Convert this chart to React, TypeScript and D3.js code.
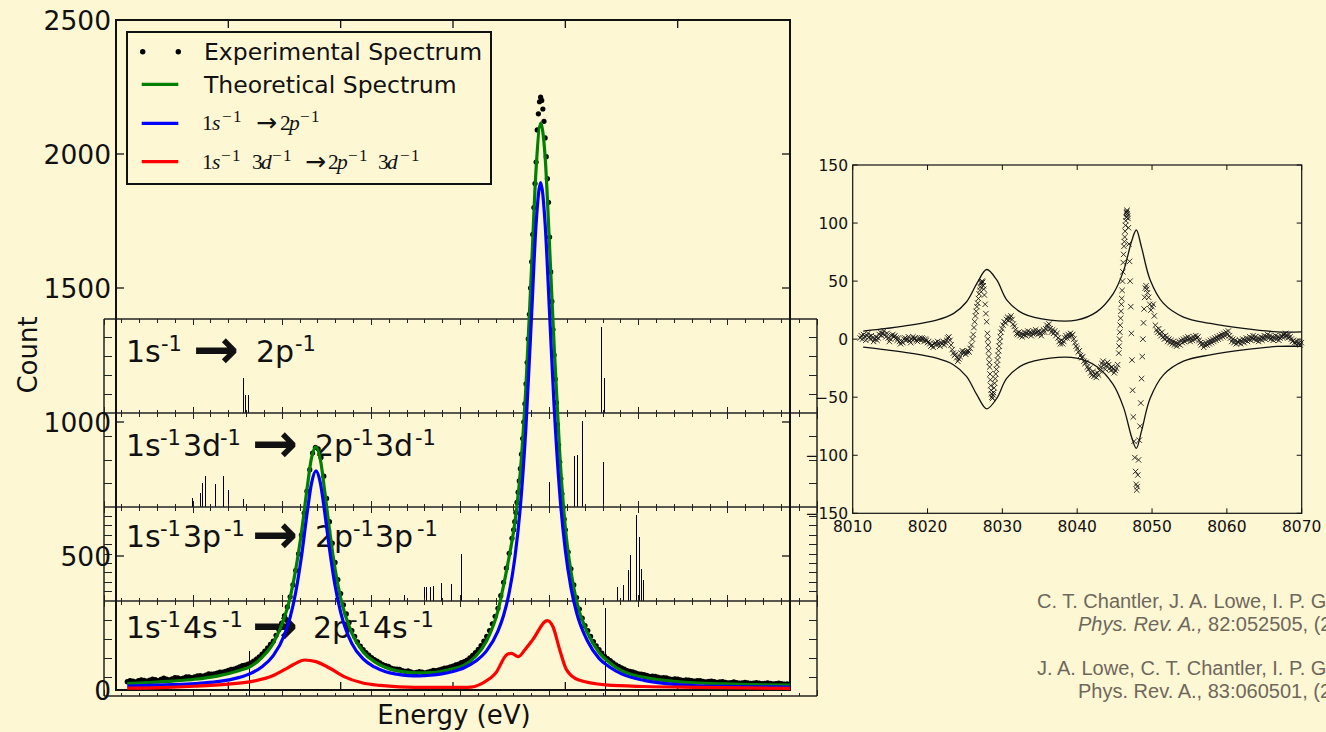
import React from "react";
import * as d3 from "d3";

const BG = "#fef7d4";

// ---------- main spectrum (Energy eV, Count) ----------
const experimental: [number, number][] = [
  [8011, 31], [8011.25, 35], [8011.5, 33], [8011.75, 30], [8012, 35], [8012.25, 38], [8012.5, 36], [8012.75, 33],
  [8013, 37], [8013.25, 41], [8013.5, 39], [8013.75, 35], [8014, 40], [8014.25, 44], [8014.5, 41], [8014.75, 38],
  [8015, 42], [8015.25, 46], [8015.5, 45], [8015.75, 42], [8016, 44], [8016.25, 49], [8016.5, 49], [8016.75, 46],
  [8017, 49], [8017.25, 53], [8017.5, 54], [8017.75, 52], [8018, 56], [8018.25, 60], [8018.5, 59], [8018.75, 60],
  [8019, 63], [8019.25, 67], [8019.5, 67], [8019.75, 70], [8020, 73], [8020.25, 77], [8020.5, 78], [8020.75, 82],
  [8021, 86], [8021.25, 91], [8021.5, 93], [8021.75, 97], [8022, 101], [8022.25, 108], [8022.5, 115], [8022.75, 124],
  [8023, 134], [8023.25, 145], [8023.5, 157], [8023.75, 170],
  [8024, 182], [8024.25, 204], [8024.5, 225], [8024.75, 250], [8025, 278], [8025.25, 310], [8025.5, 348],
  [8025.75, 392], [8026, 446], [8026.25, 508], [8026.5, 578], [8026.75, 660], [8027, 742], [8027.25, 822],
  [8027.5, 884], [8027.75, 905], [8028, 900], [8028.25, 868], [8028.5, 798], [8028.75, 715], [8029, 628],
  [8029.25, 548], [8029.5, 476], [8029.75, 412], [8030, 360], [8030.25, 318], [8030.5, 284], [8030.75, 252],
  [8031, 222], [8031.25, 200], [8031.5, 180], [8031.75, 164],
  [8032, 151], [8032.25, 140], [8032.5, 130], [8032.75, 121], [8033, 113], [8033.25, 108], [8033.5, 101],
  [8033.75, 95], [8034, 91], [8034.25, 88], [8034.5, 82], [8034.75, 79], [8035, 78], [8035.25, 77], [8035.5, 72],
  [8035.75, 70], [8036, 71], [8036.25, 68], [8036.5, 64], [8036.75, 66], [8037, 69], [8037.25, 67], [8037.5, 64],
  [8037.75, 67], [8038, 70], [8038.25, 73], [8038.5, 72], [8038.75, 75], [8039, 78], [8039.25, 82], [8039.5, 83],
  [8039.75, 86], [8040, 89], [8040.25, 94], [8040.5, 97], [8040.75, 102], [8041, 106], [8041.25, 112],
  [8041.5, 120], [8041.75, 129], [8042, 140], [8042.25, 152], [8042.5, 166], [8042.75, 182], [8043, 200],
  [8043.25, 222], [8043.5, 247], [8043.75, 275],
  [8044, 305], [8044.25, 352], [8044.5, 402], [8044.75, 455], [8045, 510], [8045.25, 566],
  [8045.4, 598], [8045.5, 628], [8045.6, 662], [8045.7, 700], [8045.8, 738], [8045.9, 780], [8046, 826],
  [8046.1, 880], [8046.2, 938], [8046.3, 1000], [8046.4, 1068], [8046.5, 1142], [8046.6, 1222], [8046.7, 1310],
  [8046.8, 1402], [8046.9, 1500], [8047, 1598], [8047.1, 1700], [8047.2, 1800], [8047.3, 1890], [8047.4, 1970],
  [8047.5, 2090], [8047.6, 2150], [8047.7, 2195], [8047.8, 2212], [8047.9, 2200], [8048, 2168], [8048.1, 2122],
  [8048.2, 2060], [8048.3, 1990], [8048.4, 1908], [8048.5, 1820], [8048.6, 1690], [8048.7, 1560], [8048.8, 1450],
  [8048.9, 1345], [8049, 1250], [8049.1, 1160], [8049.2, 1072], [8049.3, 990], [8049.4, 915], [8049.5, 850],
  [8049.6, 788], [8049.7, 732], [8049.8, 682], [8049.9, 638], [8050, 598],
  [8050.25, 515], [8050.5, 452], [8050.75, 392], [8051, 345], [8051.25, 302], [8051.5, 268], [8051.75, 240],
  [8052, 222], [8052.25, 200], [8052.5, 181], [8052.75, 165], [8053, 151], [8053.25, 138], [8053.5, 126],
  [8053.75, 117], [8054, 110], [8054.25, 101], [8054.5, 94], [8054.75, 88], [8055, 83], [8055.25, 78],
  [8055.5, 72], [8055.75, 70], [8056, 68], [8056.25, 64], [8056.5, 60], [8056.75, 59], [8057, 57], [8057.25, 55],
  [8057.5, 51], [8057.75, 52], [8058, 51], [8058.25, 48], [8058.5, 45], [8058.75, 46], [8059, 45], [8059.25, 42],
  [8059.5, 40], [8059.75, 42], [8060, 41], [8060.25, 38], [8060.5, 36], [8060.75, 38], [8061, 37], [8061.25, 35],
  [8061.5, 33], [8061.75, 35], [8062, 35], [8062.25, 32], [8062.5, 30], [8062.75, 32], [8063, 33], [8063.25, 31],
  [8063.5, 29], [8063.75, 30], [8064, 31], [8064.25, 29], [8064.5, 27], [8064.75, 28], [8065, 30], [8065.25, 28],
  [8065.5, 26], [8065.75, 27], [8066, 29], [8066.25, 27], [8066.5, 25], [8066.75, 26], [8067, 28], [8067.25, 26],
  [8067.5, 24], [8067.75, 25], [8068, 27], [8068.25, 25], [8068.5, 23], [8068.75, 24], [8069, 26], [8069.25, 24],
  [8069.5, 22], [8069.75, 23],
];

const theoretical: [number, number][] = [
  [8011, 24], [8013, 28], [8015, 33], [8017, 40], [8019, 52], [8021, 73], [8022, 88], [8023, 122], [8024, 175],
  [8025, 272], [8025.5, 345], [8026, 450], [8026.5, 585], [8027, 748], [8027.4, 865], [8027.8, 907],
  [8028.2, 858], [8028.6, 735], [8029, 600], [8029.5, 452], [8030, 342], [8031, 211], [8032, 142], [8033, 106],
  [8034, 84], [8035, 72], [8036, 66], [8037, 64], [8038, 65], [8039, 70], [8040, 79], [8041, 93], [8042, 125],
  [8043, 184], [8044, 295], [8044.5, 390], [8045, 498], [8045.5, 622], [8046, 818], [8046.5, 1140], [8047, 1585],
  [8047.4, 1946], [8047.8, 2115], [8048.2, 1990], [8048.6, 1652], [8049, 1288], [8049.5, 885], [8050, 606],
  [8050.5, 442], [8051, 331], [8052, 211], [8053, 140], [8054, 100], [8055, 72], [8057, 47], [8059, 35],
  [8061, 28], [8063, 24], [8065, 22], [8067, 20], [8070, 18],
];

const diagram: [number, number][] = [
  [8011, 15], [8013, 17], [8015, 20], [8017, 24], [8019, 31], [8021, 47], [8022, 62], [8023, 87], [8024, 128],
  [8025, 206], [8025.5, 271], [8026, 365], [8026.5, 495], [8027, 656], [8027.4, 770], [8027.8, 818],
  [8028.2, 771], [8028.6, 657], [8029, 528], [8029.5, 390], [8030, 290], [8031, 173], [8032, 116], [8033, 86],
  [8034, 68], [8035, 59], [8036, 54], [8037, 53], [8038, 55], [8039, 60], [8040, 69], [8041, 83], [8042, 107],
  [8043, 147], [8044, 220], [8044.5, 278], [8045, 363], [8045.5, 491], [8046, 686], [8046.5, 986], [8047, 1403],
  [8047.4, 1741], [8047.8, 1893], [8048.2, 1740], [8048.6, 1402], [8049, 1060], [8049.5, 735], [8050, 521],
  [8050.5, 382], [8051, 289], [8052, 181], [8053, 118], [8054, 84], [8055, 60], [8057, 36], [8059, 24],
  [8061, 17], [8063, 14], [8065, 13], [8067, 12], [8070, 11],
];

const satellite3d: [number, number][] = [
  [8011, 7], [8014, 9], [8017, 14], [8020, 22], [8022, 31], [8024, 54], [8025, 76], [8025.8, 95], [8026.8, 112],
  [8027.8, 106], [8029, 82], [8030.3, 50], [8031.9, 27], [8033.5, 17], [8035.2, 12], [8038, 10], [8041.3, 10],
  [8042.6, 25], [8043.8, 63], [8044.8, 132], [8045.2, 137], [8045.8, 124], [8046.4, 150], [8047.1, 188],
  [8048.4, 259], [8048.9, 236], [8049.5, 150], [8050.1, 76], [8051.2, 37], [8053.6, 19], [8057, 13],
  [8061.8, 10], [8066, 8], [8070, 6],
];

const mainYTicks = [0, 500, 1000, 1500, 2000, 2500];
const mainXTicks = [8020, 8030, 8040, 8050, 8060];

// ---------- transition sticks (Energy eV, relative intensity) ----------
const sticks2p: [number, number][] = [
  [8027.85, 0.375], [8027.93, 0.19], [8028.13, 0.19], [8047.9, 0.92], [8048.1, 0.375],
];
const sticks3d: [number, number][] = [
  [8024.94, 0.096], [8025.4, 0.152], [8025.55, 0.255], [8025.67, 0.333], [8026.23, 0.245], [8026.73, 0.333],
  [8026.96, 0.18], [8027.83, 0.082], [8044.97, 0.263], [8045.73, 0.096], [8046.37, 0.543], [8046.59, 0.553],
  [8046.82, 0.11], [8046.87, 0.918], [8048.05, 0.482],
];
const sticks3p: [number, number][] = [
  [8036.86, 0.064], [8038.0, 0.146], [8038.1, 0.146], [8038.3, 0.146], [8038.49, 0.163], [8038.95, 0.188],
  [8039.47, 0.178], [8040.03, 0.5], [8048.8, 0.152], [8048.95, 0.03], [8049.17, 0.167], [8049.45, 0.33],
  [8049.53, 0.49], [8049.85, 0.915], [8050.03, 0.678], [8050.14, 0.34], [8050.24, 0.223],
];
const sticks4s: [number, number][] = [
  [8028.16, 0.47], [8048.16, 0.93],
];

// ---------- residual inset (Energy eV, residual counts) ----------
const residualsLow: [number, number][] = [
  [8011.0, 1], [8011.15, 3], [8011.3, 0], [8011.45, 4], [8011.6, 2], [8011.75, -1], [8011.9, 3], [8012.05, 5],
  [8012.2, 2], [8012.35, 0], [8012.5, 3], [8012.65, 1], [8012.8, -2], [8012.95, 0], [8013.1, 2], [8013.25, -1],
  [8013.4, 1], [8013.55, 4], [8013.7, 6], [8013.85, 3], [8014.0, 5], [8014.15, 7], [8014.3, 4], [8014.45, 2],
  [8014.6, 5], [8014.75, 1], [8014.9, -2], [8015.05, 0], [8015.2, 3], [8015.35, 4], [8015.5, 2], [8015.65, 3],
  [8015.8, 1], [8015.95, -1], [8016.1, 1], [8016.25, -2], [8016.4, -4], [8016.55, -2], [8016.7, -3], [8016.85, 0],
  [8017.0, 1], [8017.15, -1], [8017.3, 0], [8017.45, 2], [8017.6, -1], [8017.75, -3], [8017.9, 0], [8018.05, 2],
  [8018.2, 0], [8018.35, 1], [8018.5, -1], [8018.65, -2], [8018.8, 0], [8018.95, 1], [8019.1, -1], [8019.25, 1],
  [8019.4, 0], [8019.55, -2], [8019.7, 0], [8019.85, -1], [8020.0, -3], [8020.15, -2], [8020.3, -4], [8020.45, -6],
  [8020.6, -5], [8020.75, -7], [8020.9, -4], [8021.05, -3], [8021.2, -5], [8021.35, -2], [8021.5, -4], [8021.65, -6],
  [8021.8, -3], [8021.95, -4], [8022.1, -2], [8022.25, -5], [8022.4, -3], [8022.55, -1], [8022.7, 1], [8022.85, 2],
  [8023.0, -1], [8023.15, -5], [8023.3, -9], [8023.45, -12], [8023.6, -14], [8023.75, -13], [8023.9, -16],
  [8024.05, -19], [8024.2, -17], [8024.35, -15], [8024.5, -12], [8024.65, -10], [8024.8, -12], [8024.95, -11],
  [8025.1, -13], [8025.25, -11], [8025.4, -10], [8025.55, -11], [8025.7, -8], [8025.85, -5],
];
const residualsKa2: [number, number][] = [
  [8026, 0], [8026.1, 4], [8026.2, 10], [8026.3, 15], [8026.4, 20], [8026.5, 24], [8026.6, 28], [8026.7, 31],
  [8026.8, 35], [8026.9, 39], [8027, 42], [8027.05, 45], [8027.15, 48], [8027.2, 49], [8027.3, 50], [8027.38, 49],
  [8027.45, 46], [8027.52, 43], [8027.6, 38], [8027.7, 30], [8027.8, 22], [8027.9, 15], [8028, 5], [8028.05, 0],
  [8028.1, -5], [8028.15, -10], [8028.2, -15], [8028.25, -20], [8028.3, -24], [8028.35, -30], [8028.4, -35],
  [8028.45, -40], [8028.5, -44], [8028.55, -47], [8028.6, -50], [8028.68, -51], [8028.75, -48], [8028.82, -46],
  [8028.9, -42], [8028.97, -38], [8029.05, -34], [8029.12, -30], [8029.2, -26], [8029.28, -22], [8029.35, -18],
  [8029.42, -14], [8029.5, -10], [8029.58, -6], [8029.65, -2], [8029.72, 2], [8029.8, 6],
];
const residualsMid: [number, number][] = [
  [8029.95, 9], [8030.1, 12], [8030.25, 15], [8030.4, 14], [8030.55, 17], [8030.7, 19], [8030.85, 16], [8031.0, 18],
  [8031.15, 20], [8031.3, 17], [8031.45, 13], [8031.6, 11], [8031.75, 8], [8031.9, 5], [8032.05, 4], [8032.2, 6],
  [8032.35, 3], [8032.5, 5], [8032.65, 2], [8032.8, 4], [8032.95, 6], [8033.1, 3], [8033.25, 5], [8033.4, 7],
  [8033.55, 4], [8033.7, 6], [8033.85, 3], [8034.0, 5], [8034.15, 7], [8034.3, 5], [8034.45, 8], [8034.6, 6],
  [8034.75, 4], [8034.9, 7], [8035.05, 5], [8035.2, 3], [8035.35, 6], [8035.5, 8], [8035.65, 6], [8035.8, 9],
  [8035.95, 12], [8036.1, 10], [8036.25, 13], [8036.4, 9], [8036.55, 6], [8036.7, 8], [8036.85, 5], [8037.0, 7],
  [8037.15, 3], [8037.3, 5], [8037.45, 1], [8037.6, -2], [8037.75, -4], [8037.9, -1], [8038.05, -4], [8038.2, -2],
  [8038.35, 1], [8038.5, 3], [8038.65, 1], [8038.8, 4], [8038.95, 2], [8039.1, 5], [8039.25, 3], [8039.4, 4],
  [8039.55, 0], [8039.7, -3], [8039.85, -6], [8040.0, -8], [8040.15, -11], [8040.3, -10], [8040.45, -14],
  [8040.6, -16], [8040.75, -15], [8040.9, -19], [8041.05, -21], [8041.2, -20], [8041.35, -24], [8041.5, -26],
  [8041.65, -25], [8041.8, -29], [8041.95, -31], [8042.1, -28], [8042.25, -32], [8042.4, -30], [8042.55, -33],
  [8042.7, -29], [8042.85, -31], [8043.0, -27], [8043.15, -24], [8043.3, -21], [8043.45, -19], [8043.6, -22],
  [8043.75, -26], [8043.9, -23], [8044.05, -20], [8044.2, -22], [8044.35, -25], [8044.5, -27], [8044.65, -24],
  [8044.8, -26], [8044.95, -29], [8045.1, -27], [8045.25, -25], [8045.4, -22],
];
const residualsKa1: [number, number][] = [
  [8045.55, -12], [8045.6, -6], [8045.65, 0], [8045.7, 6], [8045.75, 12], [8045.8, 18], [8045.85, 24], [8045.9, 30],
  [8045.95, 35], [8046, 42], [8046.05, 50], [8046.1, 58], [8046.15, 66], [8046.2, 73], [8046.25, 80], [8046.3, 84],
  [8046.35, 88], [8046.4, 93], [8046.45, 98], [8046.5, 102], [8046.55, 105], [8046.58, 109], [8046.62, 110],
  [8046.66, 111], [8046.7, 108], [8046.74, 106], [8046.78, 104], [8046.85, 96], [8046.92, 82], [8047, 67],
  [8047.08, 50], [8047.16, 28], [8047.24, 5], [8047.32, -18], [8047.4, -44], [8047.5, -67], [8047.6, -88],
  [8047.7, -102], [8047.8, -114], [8047.88, -125], [8047.95, -130], [8048.02, -127], [8048.1, -117],
  [8048.2, -104], [8048.3, -87], [8048.4, -75], [8048.5, -55], [8048.6, -34], [8048.7, -15], [8048.78, 0],
  [8048.86, 14], [8048.94, 26], [8049.02, 36], [8049.1, 44], [8049.2, 46], [8049.3, 43], [8049.4, 40],
  [8049.55, 36], [8049.7, 30], [8049.85, 25], [8050, 28], [8050.15, 30], [8050.3, 20], [8050.45, 12], [8050.6, 8],
];
const residualsHigh: [number, number][] = [
  [8050.75, 6], [8050.9, 9], [8051.05, 5], [8051.2, 3], [8051.35, 6], [8051.5, 2], [8051.65, 0], [8051.8, 3],
  [8051.95, 1], [8052.1, -2], [8052.25, 0], [8052.4, -3], [8052.55, -1], [8052.7, -4], [8052.85, -2], [8053.0, -5],
  [8053.15, -3], [8053.3, -6], [8053.45, -4], [8053.6, -2], [8053.75, -5], [8053.9, -1], [8054.05, -3], [8054.2, 0],
  [8054.35, -2], [8054.5, 1], [8054.65, -1], [8054.8, 2], [8054.95, 0], [8055.1, -2], [8055.25, 1], [8055.4, -1],
  [8055.55, 2], [8055.7, 0], [8055.85, 3], [8056.0, 1], [8056.15, 2], [8056.3, -1], [8056.45, -3], [8056.6, -5],
  [8056.75, -4], [8056.9, -7], [8057.05, -5], [8057.2, -3], [8057.35, -5], [8057.5, -2], [8057.65, -4], [8057.8, -1],
  [8057.95, -3], [8058.1, 0], [8058.25, -2], [8058.4, 1], [8058.55, -1], [8058.7, 2], [8058.85, 0], [8059.0, 3],
  [8059.15, 1], [8059.3, 4], [8059.45, 2], [8059.6, 5], [8059.75, 3], [8059.9, 6], [8060.05, 4], [8060.2, 7],
  [8060.35, 3], [8060.5, 1], [8060.65, -2], [8060.8, 0], [8060.95, -3], [8061.1, -1], [8061.25, -4], [8061.4, -2],
  [8061.55, -3], [8061.7, -1], [8061.85, -4], [8062.0, -2], [8062.15, 0], [8062.3, -3], [8062.45, -1], [8062.6, 1],
  [8062.75, -2], [8062.9, 0], [8063.05, 2], [8063.2, -1], [8063.35, 1], [8063.5, 3], [8063.65, 0], [8063.8, 2],
  [8063.95, -1], [8064.1, 1], [8064.25, -2], [8064.4, 0], [8064.55, 2], [8064.7, -1], [8064.85, 1], [8065.0, 3],
  [8065.15, 0], [8065.3, 2], [8065.45, 4], [8065.6, 1], [8065.75, 3], [8065.9, 0], [8066.05, 2], [8066.2, -1],
  [8066.35, 1], [8066.5, 3], [8066.65, 0], [8066.8, 2], [8066.95, -1], [8067.1, 1], [8067.25, 3], [8067.4, 2],
  [8067.55, 4], [8067.7, 2], [8067.85, 5], [8068.0, 3], [8068.15, 1], [8068.3, 4], [8068.45, 2], [8068.6, 0],
  [8068.75, -2], [8068.9, -1], [8069.05, -3], [8069.2, -4], [8069.35, -2], [8069.5, -4], [8069.65, -3],
  [8069.8, -5], [8069.95, -3],
];

const envelope: [number, number][] = [
  [8011.4, 6.9], [8014.5, 9.2], [8017.7, 12], [8021.2, 16.4], [8023.45, 22], [8025.2, 32], [8026.6, 48],
  [8027.9, 60], [8029.25, 51], [8030.6, 33.6], [8032.8, 22], [8036.4, 16.4], [8039.9, 16.4], [8042.6, 23.5],
  [8044.8, 39], [8046.2, 59], [8047.3, 85], [8047.9, 94], [8048.6, 79], [8049.75, 51], [8051.5, 31],
  [8054.2, 19], [8057.8, 13.5], [8062.2, 9.2], [8066.7, 6.3], [8070, 6.3],
];

const insetXTicks = [8010, 8020, 8030, 8040, 8050, 8060, 8070];
const insetYTicks = [-150, -100, -50, 0, 50, 100, 150];

const citations = [
  { a: "C. T. Chantler, J. A. Lowe, I. P. Grant,", j: "Phys. Rev. A.,", r: " 82:052505, (2010)", italic: true },
  { a: "J. A. Lowe, C. T. Chantler, I. P. Grant,", j: "Phys. Rev. A.,", r: " 83:060501, (2011)", italic: false },
];

type Piece = { t: string; x: number; k?: "s" | "a" | "i" };
const panelLabels: { base: number; pieces: Piece[] }[] = [
  { base: 362, pieces: [{ t: "1s", x: 126 }, { t: "-1", x: 161, k: "s" }, { t: "→", x: 193, k: "a" }, { t: "2p", x: 256 }, { t: "-1", x: 295, k: "s" }] },
  { base: 456, pieces: [{ t: "1s", x: 126 }, { t: "-1", x: 160, k: "s" }, { t: "3d", x: 183 }, { t: "-1", x: 220, k: "s" }, { t: "→", x: 252, k: "a" }, { t: "2p", x: 315 }, { t: "-1", x: 353, k: "s" }, { t: "3d", x: 375 }, { t: "-1", x: 415, k: "s" }] },
  { base: 547, pieces: [{ t: "1s", x: 126 }, { t: "-1", x: 160, k: "s" }, { t: "3p", x: 183 }, { t: "-1", x: 224, k: "s" }, { t: "→", x: 252, k: "a" }, { t: "2p", x: 315 }, { t: "-1", x: 353, k: "s" }, { t: "3p", x: 375 }, { t: "-1", x: 417, k: "s" }] },
  { base: 638, pieces: [{ t: "1s", x: 126 }, { t: "-1", x: 160, k: "s" }, { t: "4s", x: 183 }, { t: "-1", x: 222, k: "s" }, { t: "→", x: 252, k: "a" }, { t: "2p", x: 313 }, { t: "-1", x: 350, k: "s" }, { t: "4s", x: 373 }, { t: "-1", x: 413, k: "s" }] },
];

// legend math labels: pieces with x positions (plain = upright, i = italic, s = superscript, a = arrow)
const legendMath: { base: number; pieces: Piece[] }[] = [
  { base: 130, pieces: [{ t: "1", x: 202 }, { t: "s", x: 212, k: "i" }, { t: "−1", x: 222, k: "s" }, { t: "→", x: 256, k: "a" }, { t: "2", x: 280 }, { t: "p", x: 289, k: "i" }, { t: "−1", x: 300, k: "s" }] },
  { base: 169, pieces: [{ t: "1", x: 202 }, { t: "s", x: 212, k: "i" }, { t: "−1", x: 221, k: "s" }, { t: "3", x: 252 }, { t: "d", x: 261, k: "i" }, { t: "−1", x: 272, k: "s" }, { t: "→", x: 305, k: "a" }, { t: "2", x: 328 }, { t: "p", x: 337, k: "i" }, { t: "−1", x: 348, k: "s" }, { t: "3", x: 378 }, { t: "d", x: 387, k: "i" }, { t: "−1", x: 400, k: "s" }] },
];

const SANS = "'DejaVu Sans', Verdana, sans-serif";
const SERIF = "'Liberation Serif', 'DejaVu Serif', serif";

export default function App() {
  const x = d3.scaleLinear().domain([8010, 8070]).range([116, 790]);
  const y = d3.scaleLinear().domain([0, 2500]).range([690, 20]);
  const sx = d3.scaleLinear().domain([8020, 8060]).range([104, 817]);
  const ix = d3.scaleLinear().domain([8010, 8070]).range([852.7, 1301.7]);
  const iy = d3.scaleLinear().domain([-150, 150]).range([513.3, 165]);

  const panelTops = [319, 413, 507, 601];
  const panelBots = [413, 507, 601, 696];
  const panelSticks = [sticks2p, sticks3d, sticks3p, sticks4s];
  const panelYTicks = [d3.range(0.2, 0.99, 0.2), d3.range(0.25, 0.99, 0.25), d3.range(0.1, 0.99, 0.1), d3.range(0.2, 0.99, 0.2)];

  const residuals = [...residualsLow, ...residualsKa2, ...residualsMid, ...residualsKa1, ...residualsHigh];

  const mainLine = d3.line<[number, number]>().x((d) => x(d[0])).y((d) => y(d[1])).curve(d3.curveMonotoneX);
  const envUp = d3.line<[number, number]>().x((d) => ix(d[0])).y((d) => iy(d[1])).curve(d3.curveCatmullRom);
  const envDown = d3.line<[number, number]>().x((d) => ix(d[0])).y((d) => iy(-d[1])).curve(d3.curveCatmullRom);

  const subXTicks = d3.range(8020, 8060.5, 1);
  const boundaries = [319, 413, 507, 601, 696];

  return (
    <svg width={1326} height={732} style={{ display: "block", background: BG }}>
      <style>{`html,body{margin:0;padding:0;overflow:hidden;background:${BG};}`}</style>
      <rect x={0} y={0} width={1326} height={732} fill={BG} />

      {/* ---------- stacked transition panels ---------- */}
      <g>
        {panelTops.map((top, i) => {
          const py = d3.scaleLinear().domain([0, 1]).range([panelBots[i], top]);
          return (
            <g key={"p" + i} shapeRendering="crispEdges">
              {panelSticks[i].map((s, j) => (
                <line key={j} x1={sx(s[0])} x2={sx(s[0])} y1={py(0)} y2={py(s[1])} stroke="#000" strokeWidth={1} />
              ))}
              {panelYTicks[i].map((t, j) => (
                <g key={"t" + j}>
                  <line x1={104} x2={112} y1={py(t)} y2={py(t)} stroke="#222" strokeWidth={1} />
                  <line x1={817} x2={809} y1={py(t)} y2={py(t)} stroke="#222" strokeWidth={1} />
                </g>
              ))}
            </g>
          );
        })}
        {boundaries.map((b, bi) => (
          <g key={"b" + bi}>
            {subXTicks.map((e, j) => {
              const len = e % 5 === 0 ? 6 : 3.5;
              return (
                <g key={j} shapeRendering="crispEdges">
                  {bi < 4 && <line x1={sx(e)} x2={sx(e)} y1={b} y2={b + len} stroke="#222" strokeWidth={1} />}
                  {bi > 0 && <line x1={sx(e)} x2={sx(e)} y1={b} y2={b - len} stroke="#222" strokeWidth={1} />}
                </g>
              );
            })}
            <line x1={104} x2={817} y1={b} y2={b} stroke="#222" strokeWidth={1.5} />
          </g>
        ))}
        <line x1={104} x2={104} y1={319} y2={696} stroke="#222" strokeWidth={1.5} />
        <line x1={817} x2={817} y1={319} y2={696} stroke="#222" strokeWidth={1.5} />
        {panelLabels.map((pl, i) => (
          <g key={"l" + i} fill="#111" fontFamily={SANS}>
            {pl.pieces.map((p, j) =>
              p.k === "a" ? (
                <text key={j} x={p.x} y={pl.base + 6} fontSize={55} fontWeight="bold">{p.t}</text>
              ) : p.k === "s" ? (
                <text key={j} x={p.x} y={pl.base - 11} fontSize={21}>{p.t}</text>
              ) : (
                <text key={j} x={p.x} y={pl.base} fontSize={30}>{p.t}</text>
              )
            )}
          </g>
        ))}
      </g>

      {/* ---------- main axes ---------- */}
      <g>
        {mainXTicks.map((t) => (
          <g key={t}>
            <line x1={x(t)} x2={x(t)} y1={20} y2={28} stroke="#111" strokeWidth={1.3} />
            <line x1={x(t)} x2={x(t)} y1={690} y2={682} stroke="#111" strokeWidth={1.3} />
          </g>
        ))}
        {mainYTicks.map((t) => (
          <g key={t}>
            <line x1={116} x2={124} y1={y(t)} y2={y(t)} stroke="#111" strokeWidth={1.3} />
            <line x1={790} x2={782} y1={y(t)} y2={y(t)} stroke="#111" strokeWidth={1.3} />
            <text x={111} y={y(t) + 9.5} textAnchor="end" fontFamily={SANS} fontSize={26.5} fill="#111">{t}</text>
          </g>
        ))}
        <rect x={116} y={20} width={674} height={670} fill="none" stroke="#111" strokeWidth={2} />
        <text transform="translate(37,355) rotate(-90)" textAnchor="middle" fontFamily={SANS} fontSize={26} fill="#111">Count</text>
        <text x={454} y={724} textAnchor="middle" fontFamily={SANS} fontSize={26} fill="#111">Energy (eV)</text>
      </g>

      {/* ---------- spectra ---------- */}
      <g>
        {experimental.map((d, i) => (
          <circle key={i} cx={x(d[0])} cy={y(d[1])} r={2.6} fill="#000" />
        ))}
        <path d={mainLine(theoretical) ?? ""} fill="none" stroke="#008000" strokeWidth={3.2} strokeLinejoin="round" />
        <path d={mainLine(diagram) ?? ""} fill="none" stroke="#0000ff" strokeWidth={3.2} strokeLinejoin="round" />
        <path d={mainLine(satellite3d) ?? ""} fill="none" stroke="#ff0000" strokeWidth={3.2} strokeLinejoin="round" />
      </g>

      {/* ---------- legend ---------- */}
      <g>
        <rect x={127} y={32} width={364} height={152} fill={BG} stroke="#111" strokeWidth={2} />
        <circle cx={142.7} cy={51.7} r={2.7} fill="#000" />
        <circle cx={178.3} cy={51.7} r={2.7} fill="#000" />
        <text x={204} y={60} fontFamily={SANS} fontSize={23.5} fill="#111">Experimental Spectrum</text>
        <line x1={141.7} x2={178.3} y1={84.3} y2={84.3} stroke="#008000" strokeWidth={3.2} />
        <text x={204} y={93} fontFamily={SANS} fontSize={23.5} fill="#111">Theoretical Spectrum</text>
        <line x1={141.7} x2={178.3} y1={123.3} y2={123.3} stroke="#0000ff" strokeWidth={3.2} />
        <line x1={141.7} x2={178.3} y1={161.7} y2={161.7} stroke="#ff0000" strokeWidth={3.2} />
        {legendMath.map((lm, i) => (
          <g key={"m" + i} fill="#111">
            {lm.pieces.map((p, j) =>
              p.k === "a" ? (
                <text key={j} x={p.x} y={lm.base + 1} fontFamily={SANS} fontSize={25}>{p.t}</text>
              ) : p.k === "s" ? (
                <text key={j} x={p.x} y={lm.base - 8} fontFamily={SERIF} fontSize={17} letterSpacing={1.5}>{p.t}</text>
              ) : (
                <text key={j} x={p.x} y={lm.base} fontFamily={SERIF} fontSize={21.5} fontStyle={p.k === "i" ? "italic" : "normal"}>{p.t}</text>
              )
            )}
          </g>
        ))}
      </g>

      {/* ---------- residual inset ---------- */}
      <g>
        <path d={envUp(envelope) ?? ""} fill="none" stroke="#111" strokeWidth={1.3} />
        <path d={envDown(envelope) ?? ""} fill="none" stroke="#111" strokeWidth={1.3} />
        {residuals.map((d, i) => (
          <path
            key={i}
            transform={`translate(${ix(d[0])},${iy(d[1])})`}
            d="M-2.7,-2.7L2.7,2.7M-2.7,2.7L2.7,-2.7"
            stroke="#111"
            strokeWidth={1}
            strokeOpacity={0.85}
            fill="none"
          />
        ))}
        {insetXTicks.map((t) => (
          <g key={t}>
            <line x1={ix(t)} x2={ix(t)} y1={513.3} y2={508.3} stroke="#111" strokeWidth={1} />
            <line x1={ix(t)} x2={ix(t)} y1={165} y2={170} stroke="#111" strokeWidth={1} />
            <text x={ix(t)} y={532} textAnchor="middle" fontFamily={SANS} fontSize={15.5} fill="#111">{t}</text>
          </g>
        ))}
        {insetYTicks.map((t) => (
          <g key={t}>
            <line x1={852.7} x2={857.7} y1={iy(t)} y2={iy(t)} stroke="#111" strokeWidth={1} />
            <line x1={1301.7} x2={1296.7} y1={iy(t)} y2={iy(t)} stroke="#111" strokeWidth={1} />
            <text x={848} y={iy(t) + 5.5} textAnchor="end" fontFamily={SANS} fontSize={15.5} fill="#111">
              {t < 0 ? "−" + Math.abs(t) : String(t)}
            </text>
          </g>
        ))}
        <rect x={852.7} y={165} width={449} height={348.3} fill="none" stroke="#111" strokeWidth={1.2} />
      </g>

      {/* ---------- citations ---------- */}
      <g fontFamily="'Liberation Sans', Arial, sans-serif" fontSize={20} fill="#6e685c">
        {citations.map((c, i) => (
          <g key={i}>
            <text x={1037} y={608 + i * 67}>{c.a}</text>
            <text x={1078} y={631 + i * 67}>
              <tspan fontStyle={c.italic ? "italic" : "normal"}>{c.j}</tspan>
              <tspan>{c.r}</tspan>
            </text>
          </g>
        ))}
      </g>
    </svg>
  );
}
